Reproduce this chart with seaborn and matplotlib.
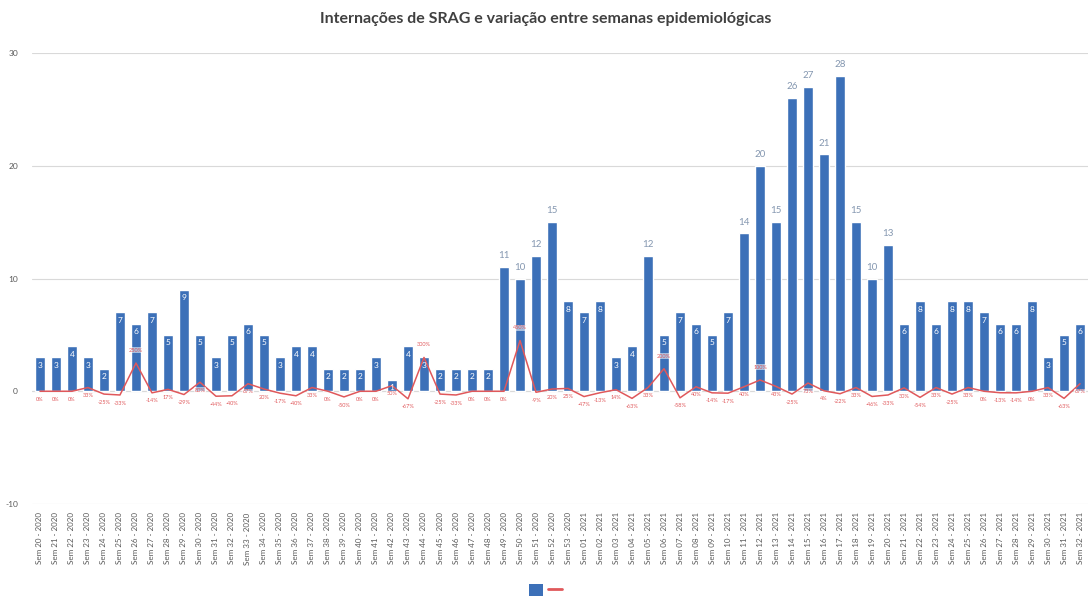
import matplotlib
matplotlib.use('Agg')
import matplotlib.pyplot as plt
import seaborn as sns
import pandas as pd
from matplotlib.patches import Patch
from matplotlib.lines import Line2D

# semanas epidemiologicas (2020 teve 53 semanas)
weeks_2020 = list(range(20, 54))
weeks_2021 = list(range(1, 33))
week_labels = [f'Sem {w:02d} - 2020' for w in weeks_2020] + [f'Sem {w:02d} - 2021' for w in weeks_2021]

# internacoes por semana
admissions = [3, 3, 4, 3, 2, 7, 6, 7, 5, 9, 5, 3, 5, 6, 5, 3, 4, 4, 2, 2,
              2, 3, 1, 4, 3, 2, 2, 2, 2, 11, 10, 12, 15, 8, 7, 8, 3, 4, 12, 5,
              7, 6, 5, 7, 14, 20, 15, 26, 27, 21, 28, 15, 10, 13, 6, 8, 6, 8, 8, 7,
              6, 6, 8, 3, 5, 6]

# variacao entre semanas (fração)
variation = [0, 0, 0, 0.33, -0.25, -0.33, 2.5, -0.14, 0.17, -0.29, 0.8, -0.44, -0.4, 0.67,
             0.2, -0.17, -0.4, 0.33, 0, -0.5, 0, 0, 0.5, -0.67, 3.0, -0.25, -0.33, 0, 0, 0,
             4.5, -0.09, 0.2, 0.25, -0.47, -0.13, 0.14, -0.63, 0.33, 2.0, -0.58, 0.4, -0.14,
             -0.17, 0.4, 1.0, 0.43, -0.25, 0.73, 0.04, -0.22, 0.33, -0.46, -0.33, 0.3, -0.54,
             0.33, -0.25, 0.33, 0, -0.13, -0.14, 0, 0.33, -0.63, 0.67]

y_ticks = [-10, 0, 10, 20, 30]

BAR_COLOR = '#3C70B8'
LINE_COLOR = '#E0585B'


def main():
    sns.set_style('white')
    plt.rcParams['font.family'] = ['Lato', 'DejaVu Sans']

    df = pd.DataFrame({'semana': week_labels, 'internacoes': admissions,
                       'pos': range(len(week_labels)), 'variacao': variation})

    fig = plt.figure(figsize=(10.91, 6.06), dpi=100)
    ax = fig.add_axes([0.0293, 0.1683, 0.968, 0.7442])

    sns.barplot(data=df, x='semana', y='internacoes', color=BAR_COLOR,
                width=0.68, saturation=1, ax=ax, zorder=2)
    sns.lineplot(data=df, x='pos', y='variacao', color=LINE_COLOR,
                 linewidth=1.1, ax=ax, zorder=3)

    # rótulos das barras
    for i, v in enumerate(admissions):
        if v >= 10:
            ax.text(i, v + 0.6, str(v), ha='center', va='bottom',
                    fontsize=7, color='#8497B0')
        else:
            ax.text(i, v - 0.4, str(v), ha='center', va='top',
                    fontsize=6, color='white')

    # rótulos da variação: acima dos picos, abaixo da linha no resto
    for i, v in enumerate(variation):
        if v >= 1:
            y, va = v + 0.9, 'bottom'
        else:
            y, va = v - 0.5, 'top'
        ax.text(i, y, f'{v * 100:.0f}%', ha='center', va=va,
                fontsize=4.0, color=LINE_COLOR,
                bbox=dict(boxstyle='square,pad=0.1', fc='white', ec='none', alpha=0.55),
                zorder=4)

    ax.set_ylim(-10, 30)
    ax.set_xlim(-0.5, len(week_labels) - 0.5)
    ax.set_yticks(y_ticks)
    ax.set_yticklabels([str(t) for t in y_ticks], fontsize=6, color='#595959')
    ax.tick_params(axis='y', length=0, pad=10)
    ax.tick_params(axis='x', length=0, pad=6)
    ax.set_xticks(range(len(week_labels)))
    ax.set_xticklabels(week_labels, rotation=90, fontsize=5.8, color='#595959')
    ax.set_xlabel('')
    ax.set_ylabel('')
    ax.grid(axis='y', color='#D9D9D9', linewidth=0.8, zorder=0)
    ax.axhline(0, color='#D9D9D9', linewidth=0.8, zorder=1)
    sns.despine(ax=ax, left=True, bottom=True)

    fig.suptitle('Internações de SRAG e variação entre semanas epidemiológicas',
                 y=0.98, fontsize=11.5, fontweight='bold', color='#404040')

    handles = [Patch(facecolor=BAR_COLOR, edgecolor='none'),
               Line2D([0], [0], color=LINE_COLOR, linewidth=2)]
    fig.legend(handles, ['', ''], loc='lower center', bbox_to_anchor=(0.5, -0.005),
               ncol=2, frameon=False, handlelength=1.0, handleheight=1.0,
               columnspacing=0.4, handletextpad=0.0)

    fig.savefig('out.png', dpi=100)


if __name__ == '__main__':
    main()
